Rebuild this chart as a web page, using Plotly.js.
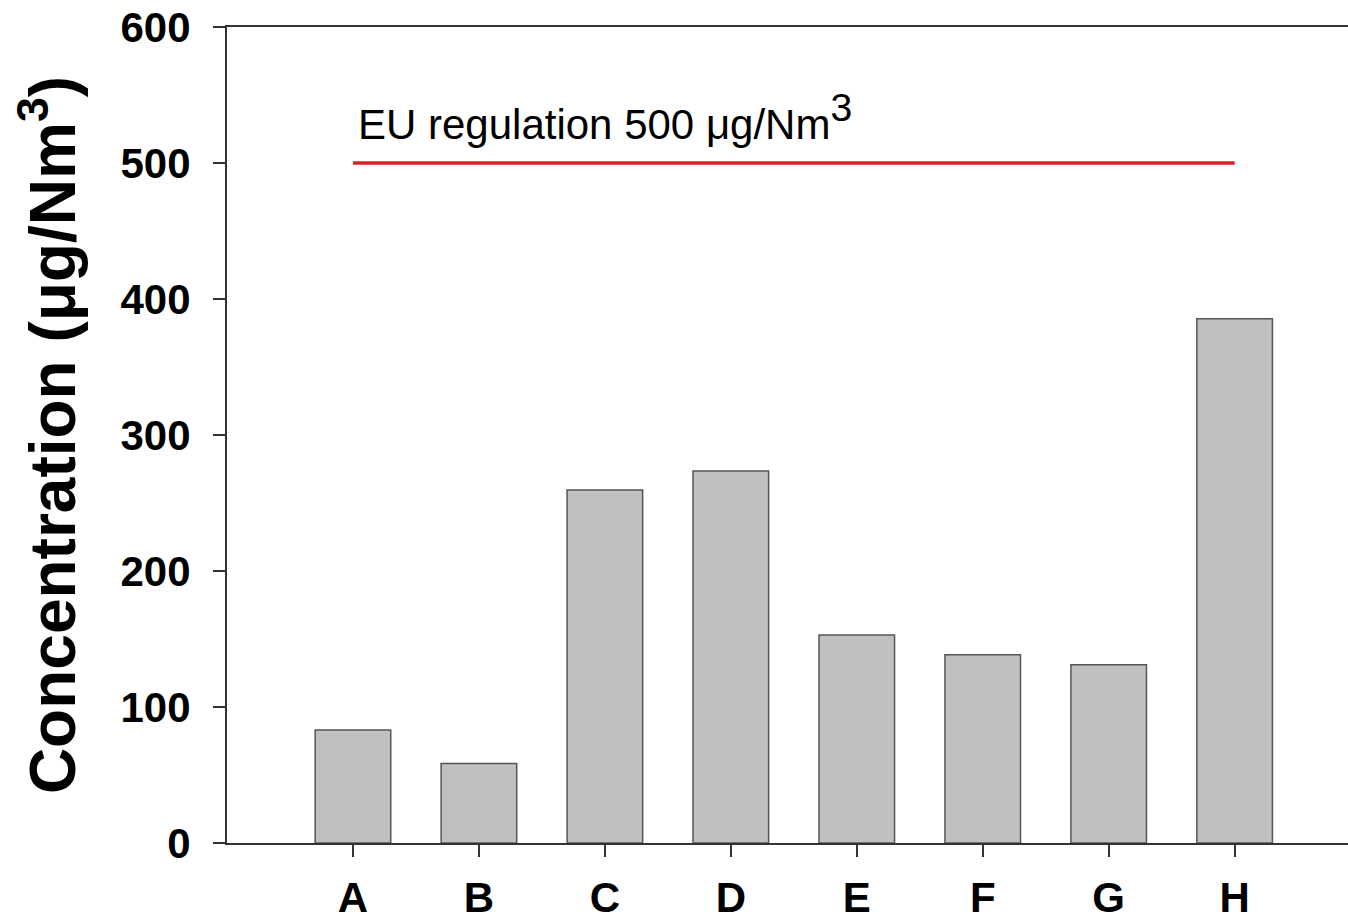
<!DOCTYPE html>
<html>
<head>
<meta charset="utf-8">
<script src="https://cdn.plot.ly/plotly-3.0.1.min.js"></script>
<style>html,body{margin:0;padding:0;background:#fff;}#chart{width:1348px;height:923px;}</style>
</head>
<body>
<div id="chart"></div>
<script>
const categories = ['A', 'B', 'C', 'D', 'E', 'F', 'G', 'H'];
const concentration = [83, 58.5, 259.5, 273.5, 153, 138.5, 131, 385.5];
const euLimit = 500;
const limitLabel = 'EU regulation 500 \u03BCg/Nm<sup><span style="font-size:133%">3</span></sup>';
const yTicks = [0, 100, 200, 300, 400, 500, 600];

const bars = {
  type: 'bar',
  x: categories,
  y: concentration,
  width: 0.6,
  marker: {color: '#c0c0c0', line: {color: '#555555', width: 1.5}},
  hoverinfo: 'x+y'
};
const limitLine = {
  type: 'scatter',
  mode: 'lines',
  x: [categories[0], categories[categories.length - 1]],
  y: [euLimit, euLimit],
  line: {color: '#e31b23', width: 3.5},
  hoverinfo: 'y'
};

const layout = {
  width: 1348, height: 923,
  margin: {l: 227, r: 0, t: 27, b: 80},
  paper_bgcolor: '#ffffff', plot_bgcolor: '#ffffff',
  showlegend: false,
  font: {family: 'Liberation Sans, Arial, sans-serif', color: '#000'},
  xaxis: {
    type: 'category',
    categoryorder: 'array', categoryarray: categories,
    range: [-1, 7.9],
    showline: true, linecolor: '#333', linewidth: 2, mirror: true,
    showgrid: false, zeroline: false,
    ticks: 'outside', ticklen: 12, tickwidth: 2, tickcolor: '#333',
    ticklabelstandoff: 5,
    tickfont: {family: 'Liberation Sans, Arial, sans-serif', size: 42, weight: 'bold', color: '#000'}
  },
  yaxis: {
    range: [0, 600],
    tickvals: yTicks,
    showline: true, linecolor: '#333', linewidth: 2,
    showgrid: false, zeroline: false,
    ticks: 'outside', ticklen: 12, tickwidth: 2, tickcolor: '#333',
    ticklabelstandoff: 14,
    tickfont: {family: 'Liberation Sans, Arial, sans-serif', size: 42, weight: 'bold', color: '#000'},
    title: {
      text: 'Concentration (\u03BCg/Nm<sup>3</sup>)',
      font: {family: 'Liberation Sans, Arial, sans-serif', size: 64, weight: 'bold', color: '#000'},
      standoff: 24
    }
  },
  annotations: [{
    xref: 'x', yref: 'y',
    x: 0, y: euLimit,
    xanchor: 'left', yanchor: 'bottom',
    xshift: 3, yshift: 13,
    text: limitLabel,
    showarrow: false,
    font: {family: 'Liberation Sans, Arial, sans-serif', size: 42, color: '#000'}
  }]
};

Plotly.newPlot('chart', [bars, limitLine], layout, {displayModeBar: false, staticPlot: true});
</script>
</body>
</html>
